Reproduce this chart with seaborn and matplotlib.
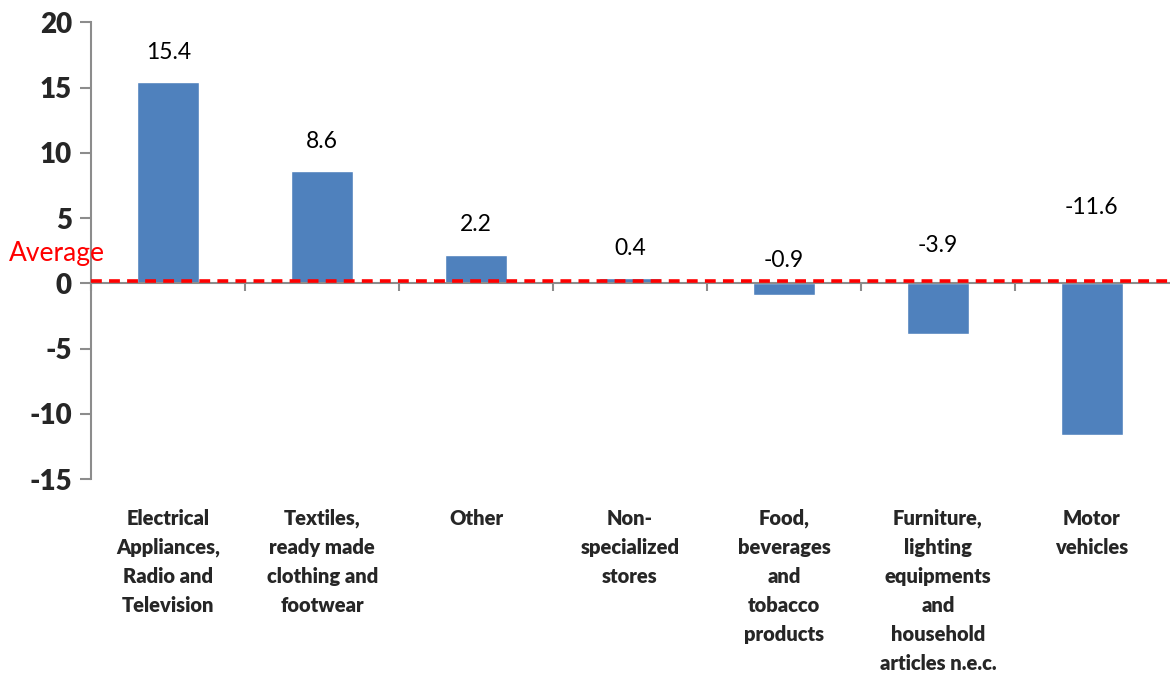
import matplotlib
matplotlib.use("Agg")
import matplotlib.pyplot as plt
import matplotlib.transforms as mtransforms
import seaborn as sns
import pandas as pd

categories = [
    "Electrical\nAppliances,\nRadio and\nTelevision",
    "Textiles,\nready made\nclothing and\nfootwear",
    "Other",
    "Non-\nspecialized\nstores",
    "Food,\nbeverages\nand\ntobacco\nproducts",
    "Furniture,\nlighting\nequipments\nand\nhousehold\narticles n.e.c.",
    "Motor\nvehicles",
]
values = [15.4, 8.6, 2.2, 0.4, -0.9, -3.9, -11.6]
average = 0.2
y_ticks = [-15, -10, -5, 0, 5, 10, 15, 20]

sns.set_theme(style="white")
plt.rcParams["font.family"] = ["Lato", "DejaVu Sans"]

df = pd.DataFrame({"category": categories, "value": values})

fig = plt.figure(figsize=(11.7, 6.75), dpi=100)
ax = fig.add_axes([0.078, 0.29, 0.921, 0.677])

sns.barplot(data=df, x="category", y="value", color="#4F81BD",
            saturation=1, width=0.4, ax=ax, zorder=2)

ax.set_xlim(-0.5, len(categories) - 0.5)
ax.set_ylim(-15, 20)
ax.set_yticks(y_ticks)
ax.set_yticklabels([str(t) for t in y_ticks], fontsize=20, fontweight="heavy")
ax.set_xlabel("")
ax.set_ylabel("")

# axis styling: left spine and a zero line carrying category boundary ticks
for s in ["top", "right"]:
    ax.spines[s].set_visible(False)
ax.spines["left"].set_color("#8c8c8c")
ax.spines["left"].set_linewidth(1.5)
ax.spines["bottom"].set_position(("data", 0))
ax.spines["bottom"].set_color("#8c8c8c")
ax.spines["bottom"].set_linewidth(1.5)
ax.set_xticks([i - 0.5 for i in range(len(categories))])
ax.set_xticklabels([])
ax.tick_params(axis="x", direction="out", length=6, width=1.5, color="#8c8c8c",
               bottom=True)
ax.tick_params(axis="y", direction="out", length=8, width=1.5, color="#8c8c8c",
               left=True, pad=6)

# average reference line
ax.axhline(average, color="#FF0000", lw=2.6, ls=(0, (3, 2)), zorder=3)
fig.text(0.008, 0.624, "Average", color="#FF0000", fontsize=19,
         ha="left", va="center")

# value labels
for i, v in enumerate(values):
    y = v + 2.3 if v >= 0 else 1.4 - 0.38 * v
    ax.text(i, y, f"{v:.1f}", ha="center", va="center", fontsize=16.5,
            color="#000000")

# category labels below the plot area
trans = mtransforms.blended_transform_factory(ax.transData, ax.transAxes)
for i, c in enumerate(categories):
    ax.text(i, -0.065, c, transform=trans, ha="center", va="top",
            fontsize=14.5, fontweight="heavy", linespacing=1.62)

fig.savefig("out.png", dpi=100)
